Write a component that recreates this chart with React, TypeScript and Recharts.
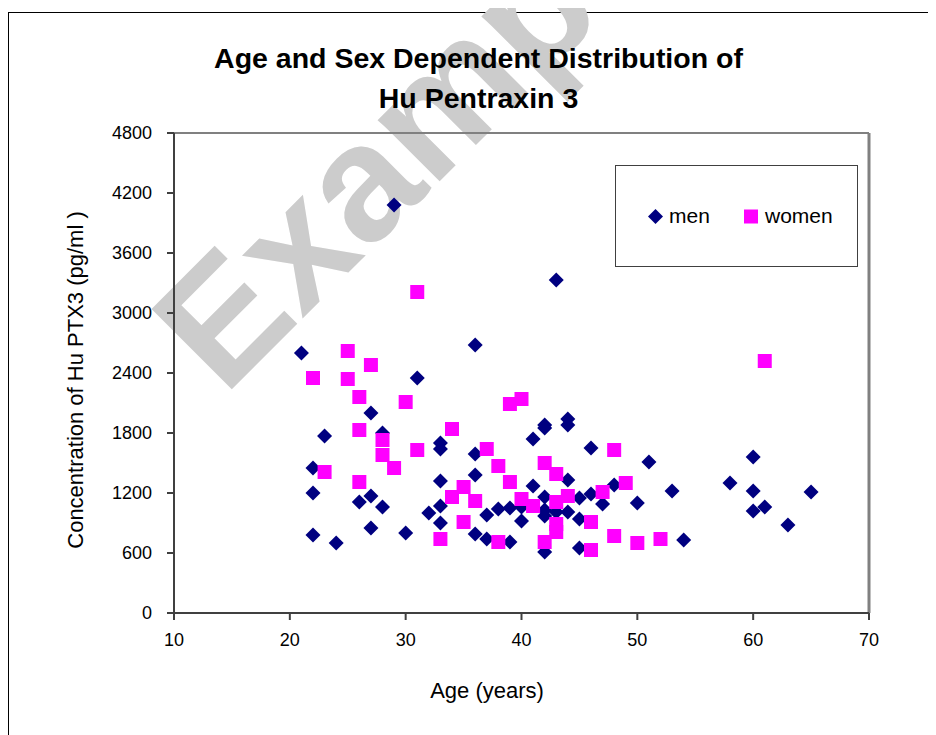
import {
  ScatterChart,
  Scatter,
  XAxis,
  YAxis,
  ReferenceLine,
  Legend,
  Label,
} from 'recharts'

// ages and PTX3 concentrations
const menAge = [
  21, 22, 22, 22, 23, 24, 26, 27, 27, 27, 28, 28, 29, 30, 31, 32, 33, 33, 33, 33,
  33, 36, 36, 36, 36, 37, 37, 38, 39, 39, 40, 40, 41, 41, 42, 42, 42, 42, 42, 42,
  43, 43, 44, 44, 44, 44, 45, 45, 45, 46, 46, 47, 48, 50, 51, 53, 54, 58, 60, 60,
  60, 61, 63, 65,
]
const menConc = [
  2600, 1450, 1200, 780, 1770, 700, 1110, 2000, 1170, 850, 1800, 1060, 4080, 800,
  2350, 1000, 1700, 1640, 1320, 1070, 900, 2680, 1590, 1380, 790, 980, 740, 1040,
  1050, 710, 1060, 920, 1740, 1270, 1880, 1850, 1160, 1030, 970, 610, 3330, 1010,
  1940, 1880, 1330, 1010, 1150, 940, 650, 1650, 1190, 1090, 1280, 1100, 1510, 1220,
  730, 1300, 1560, 1220, 1020, 1060, 880, 1210,
]

const womenAge = [
  22, 23, 25, 25, 26, 26, 26, 27, 28, 28, 29, 30, 31, 31, 33, 34, 34, 35, 35, 36,
  37, 38, 38, 39, 39, 40, 40, 41, 42, 42, 43, 43, 43, 43, 44, 46, 46, 47, 48, 48,
  49, 50, 52, 61,
]
const womenConc = [
  2350, 1410, 2620, 2340, 2160, 1830, 1310, 2480, 1730, 1580, 1450, 2110, 3210, 1630,
  740, 1840, 1160, 1260, 910, 1120, 1640, 1470, 710, 2090, 1310, 2140, 1140, 1070,
  1500, 710, 1390, 1110, 890, 810, 1170, 910, 630, 1210, 1630, 770, 1300, 700, 740,
  2520,
]

const xTicks = [10, 20, 30, 40, 50, 60, 70]
const yTicks = [0, 600, 1200, 1800, 2400, 3000, 3600, 4200, 4800]

const men = menAge.map((age, i) => ({ age, conc: menConc[i] }))
const women = womenAge.map((age, i) => ({ age, conc: womenConc[i] }))

const FONT = '"Liberation Sans", Arial, sans-serif'
const NAVY = '#000080'
const MAGENTA = '#FF00FF'
const AXIS = '#404040'

function Diamond(props: any) {
  const { cx, cy } = props
  const r = 7.5
  return (
    <polygon
      points={`${cx},${cy - r} ${cx + r},${cy} ${cx},${cy + r} ${cx - r},${cy}`}
      fill={NAVY}
    />
  )
}

function Square(props: any) {
  const { cx, cy } = props
  return <rect x={cx - 7} y={cy - 7} width={14} height={14} fill={MAGENTA} />
}

function LegendBox(props: any) {
  const payload = props.payload || []
  const lefts = [32, 128]
  return (
    <div
      style={{
        width: 243,
        height: 102,
        boxSizing: 'border-box',
        border: '1px solid ' + AXIS,
        background: '#fff',
        position: 'relative',
        fontFamily: FONT,
        fontSize: 21,
        color: '#000',
      }}
    >
      {payload.map((p: any, i: number) => (
        <div
          key={p.value}
          style={{
            position: 'absolute',
            left: lefts[i],
            top: 38,
            height: 24,
            display: 'flex',
            alignItems: 'center',
            whiteSpace: 'nowrap',
          }}
        >
          <svg width={15} height={15} style={{ marginRight: 6 }}>
            {p.value === 'men' ? (
              <polygon points="7.5,0 15,7.5 7.5,15 0,7.5" fill={NAVY} />
            ) : (
              <rect x={0} y={0.5} width={14} height={14} fill={MAGENTA} />
            )}
          </svg>
          <span>{p.value}</span>
        </div>
      ))}
    </div>
  )
}

export default function App() {
  const tickStyle = { fontFamily: FONT, fontSize: 18, fill: '#000' }
  return (
    <div style={{ position: 'relative', width: 928, height: 727, overflow: 'hidden', background: '#fff' }}>
      <div
        style={{
          position: 'absolute',
          left: 0,
          top: 4,
          width: 1000,
          height: 1000,
          border: '1px solid #000',
        }}
      />
      <svg width={928} height={727} style={{ position: 'absolute', left: 0, top: 0 }}>
        <text
          x={216}
          y={389}
          transform="rotate(-45 216 389)"
          fontFamily={FONT}
          fontWeight="bold"
          fontSize={165}
          fill="#cccccc"
        >
          Example
        </text>
      </svg>
      <div style={{ position: 'absolute', left: 0, top: 0 }}>
        <ScatterChart
          width={928}
          height={727}
          margin={{ top: 125, right: 67, bottom: 82, left: 0 }}
        >
          <XAxis
            type="number"
            dataKey="age"
            domain={[10, 70]}
            ticks={xTicks}
            height={40}
            stroke={AXIS}
            strokeWidth={2}
            tickSize={7}
            tickMargin={13}
            tick={tickStyle}
          >
            <Label
              content={() => (
                <text x={479} y={690} textAnchor="middle" fontFamily={FONT} fontSize={22} fill="#000">
                  Age (years)
                </text>
              )}
            />
          </XAxis>
          <YAxis
            type="number"
            dataKey="conc"
            domain={[0, 4800]}
            ticks={yTicks}
            width={166}
            stroke={AXIS}
            strokeWidth={2}
            tickSize={7}
            tickMargin={15}
            tick={tickStyle}
          >
            <Label
              content={() => (
                <text
                  x={67}
                  y={372}
                  transform="rotate(-90 67 372)"
                  textAnchor="middle"
                  dominantBaseline="central"
                  fontFamily={FONT}
                  fontSize={22}
                  fill="#000"
                >
                  Concentration of Hu PTX3 (pg/ml )
                </text>
              )}
            />
          </YAxis>
          <ReferenceLine y={4800} stroke="#808080" strokeWidth={2} />
          <ReferenceLine x={70} stroke="#808080" strokeWidth={3} />
          <Legend
            layout="vertical"
            align="center"
            verticalAlign="middle"
            content={LegendBox}
            wrapperStyle={{ left: 607, top: 157, width: 243, height: 102 }}
          />
          <Scatter name="men" data={men} fill={NAVY} shape={Diamond} isAnimationActive={false} />
          <Scatter name="women" data={women} fill={MAGENTA} shape={Square} isAnimationActive={false} />
        </ScatterChart>
      </div>
      <svg
        width={928}
        height={130}
        style={{ position: 'absolute', left: 0, top: 0, pointerEvents: 'none' }}
      >
        <text x={470.5} y={60} textAnchor="middle" fontFamily={FONT} fontWeight="bold" fontSize={28.5} fill="#000">
          Age and Sex Dependent Distribution of
        </text>
        <text x={470.5} y={100} textAnchor="middle" fontFamily={FONT} fontWeight="bold" fontSize={28.5} fill="#000">
          Hu Pentraxin 3
        </text>
      </svg>
    </div>
  )
}
